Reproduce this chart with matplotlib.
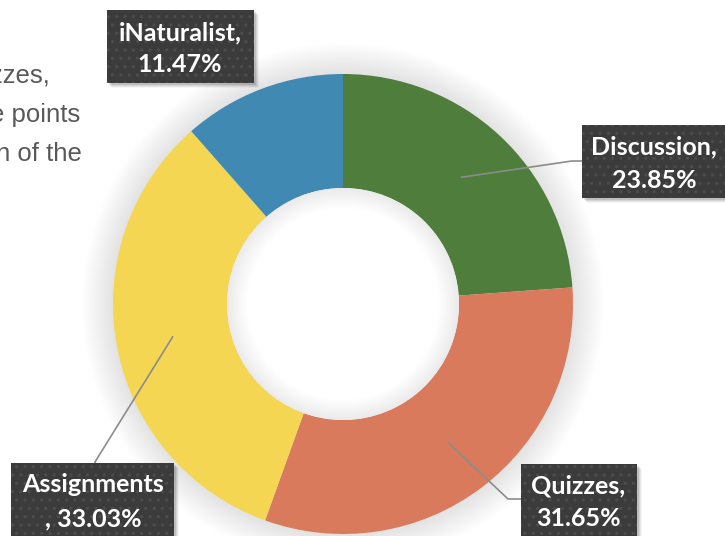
import numpy as np
import matplotlib.pyplot as plt
from matplotlib.patches import Rectangle, Circle, Wedge

# =============================================================================
# DATA
# =============================================================================
categories = ["Discussion", "Quizzes", "Assignments", "iNaturalist"]
shares = [23.85, 31.65, 33.03, 11.47]
colors = ["#4f7d3b", "#d97a5d", "#f4d652", "#3f89b3"]
label_lines = [
    ("Discussion,", "23.85%"),
    ("Quizzes,", "31.65%"),
    ("Assignments", ", 33.03%"),
    ("iNaturalist,", "11.47%"),
]
side_text = ["zzes,", "e points", "n of the"]

# =============================================================================
# LAYOUT (pixel units, y measured from top)
# =============================================================================
W, H = 725, 536
cx, cy = 343, 304
r_out, r_in = 230, 116

# label boxes: (left, top, right, bottom), text centre x, line centres y
boxes = [
    ((582, 125, 727, 198), 654, (147, 181)),
    ((521, 464, 637, 545), 578, (486, 519)),
    ((11, 463, 174, 545), 93, (485, 519)),
    ((107, 10, 254, 83), 180, (33, 65)),
]
# elbow point of the leader lines (None = no leader)
elbows = [(572, 161), (508, 499), (95, 462), None]
ends = [(582, 161), (521, 499), (95, 463), None]


def Y(y):
    return H - y


fig = plt.figure(figsize=(W / 100, H / 100), dpi=100)
ax = fig.add_axes([0, 0, 1, 1])

# soft shadow around the ring
for k in range(14):
    ax.add_patch(Circle((cx, Y(cy)), r_out + 2 + k * 2.2, color="#808080",
                        alpha=0.015, lw=0, zorder=0))

wedges, _ = ax.pie(shares, colors=colors, startangle=90, counterclock=False,
                   radius=r_out, center=(cx, Y(cy)),
                   wedgeprops=dict(width=r_out - r_in, linewidth=0))

# inner hole shading (darkest at the rim, fading inwards)
ax.add_patch(Circle((cx, Y(cy)), r_in, color="white", lw=0, zorder=2.9))
for d in np.linspace(2, 20, 10):
    ax.add_patch(Wedge((cx, Y(cy)), r_in, 0, 360, width=d, color="#909090",
                       alpha=0.013, lw=0, zorder=3))

# leader lines from the ring middle
r_mid = (r_in + r_out) / 2
cum = np.cumsum([0] + shares[:-1])
for i, s in enumerate(shares):
    if elbows[i] is None:
        continue
    ang = np.deg2rad(90 - (cum[i] + s / 2) / 100 * 360)
    x0 = cx + r_mid * np.cos(ang)
    y0 = cy - r_mid * np.sin(ang)
    xs = [x0, elbows[i][0], ends[i][0]]
    ys = [Y(y0), Y(elbows[i][1]), Y(ends[i][1])]
    ax.plot(xs, ys, color="#8c8c8c", lw=1.2, zorder=4, solid_capstyle="butt")

# label boxes
plt.rcParams["hatch.linewidth"] = 1.1
for ((l, t, r, b), tx, (y1, y2)), (s1, s2) in zip(boxes, label_lines):
    for k, al in enumerate([0.10, 0.08, 0.06, 0.04]):
        ax.add_patch(Rectangle((l + 2 + k, Y(b) - 2 - k), r - l, b - t,
                               facecolor="#000000", alpha=al, lw=0, zorder=5))
    ax.add_patch(Rectangle((l, Y(b)), r - l, b - t, facecolor="#3b3b3b",
                           edgecolor="#4c4c4c", hatch="..", lw=0, zorder=6))
    for s, yy in ((s1, y1), (s2, y2)):
        ax.text(tx, Y(yy), s, color="white", fontsize=18, fontweight="bold",
                family="Lato", ha="center", va="center", zorder=7)

# cut-off slide text on the left
for s, xr, yb in zip(side_text, [50, 80, 82], [82, 122, 161]):
    ax.text(xr, Y(yb), s, color="#595959", fontsize=18.5,
            family="Liberation Sans", ha="right", va="baseline")

ax.set_xlim(0, W)
ax.set_ylim(0, H)
ax.set_aspect("auto")
ax.axis("off")

fig.savefig("out.png", dpi=100)
